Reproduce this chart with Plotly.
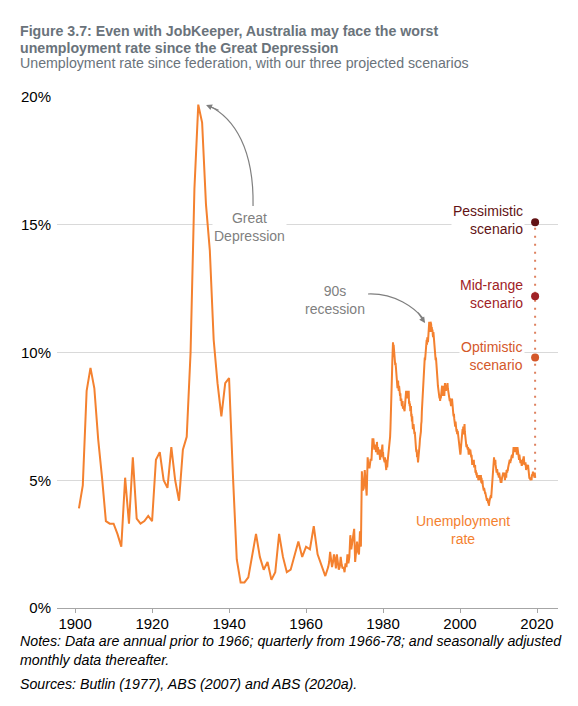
import plotly.graph_objects as go

# ---------------- data ----------------
annual_years = list(range(1901, 1966))
annual_rate = [3.9, 4.8, 8.5, 9.4, 8.6, 6.6, 5.1, 3.4, 3.3, 3.3,
               2.9, 2.4, 5.1, 3.3, 5.9, 3.5, 3.3, 3.4, 3.6, 3.4,
               5.8, 6.1, 5.0, 4.7, 6.3, 5.0, 4.2, 6.2, 6.7, 10.0,
               16.4, 19.7, 19.0, 15.8, 14.0, 10.5, 8.8, 7.5, 8.8, 9.0,
               5.2, 1.9, 1.0, 1.0, 1.2, 2.1, 2.9, 2.0, 1.5, 1.8,
               1.1, 1.4, 2.9, 2.0, 1.4, 1.5, 2.1, 2.6, 2.0, 2.4,
               2.3, 3.2, 2.1, 1.7, 1.25]

quarterly_start = 1965.75
quarterly_rate = [1.6,
                  1.8, 2.2, 1.9, 1.6,
                  1.8, 2.1, 1.9, 1.55,
                  2.1, 1.8, 1.5, 1.6,
                  2.0, 1.7, 1.55, 1.6,
                  1.4, 1.75, 1.6, 2.1,
                  1.75, 2.0, 2.85, 2.3,
                  2.55, 2.7, 3.1, 1.8,
                  2.3, 2.6, 2.2, 2.1,
                  3.0, 2.4, 5.35, 4.6,
                  4.7, 5.4, 4.9, 4.4,
                  5.9, 5.5, 5.5, 5.8,
                  5.8, 6.6]

monthly_start = 1977.5
monthly_rate = [
    6.6, 6.3, 6.5, 6.2, 6.4, 6.2, 6.4, 6.3, 6.1, 6.4, 6.2,
    6.5, 6.2, 6.0, 6.3, 6.2, 6.0, 6.1, 6.2, 5.9, 6.0, 5.8, 6.1,
    6.2, 5.9, 6.2, 6.0, 6.1, 6.4, 6.0, 6.1, 5.9, 5.8, 5.9, 5.7,
    5.7, 5.9, 5.6, 5.5, 5.7, 5.4, 5.8, 5.6, 5.5, 5.7, 5.8, 5.9,
    6.0, 6.3, 6.2, 6.4, 6.6, 6.7, 7.0, 7.3, 7.6, 8.1, 8.6, 9.2,
    9.7, 10.1, 10.4, 10.2, 10.3, 10.1, 9.9, 9.8, 9.7, 9.5, 9.6, 9.4,
    9.3, 9.1, 8.9, 8.8, 8.6, 8.7, 8.9, 8.6, 8.5, 8.7, 8.4, 8.6,
    8.3, 8.4, 8.1, 8.3, 8.2, 8.0, 7.9, 8.0, 8.1, 7.8, 7.9, 7.9,
    7.8, 7.8, 7.7, 7.9, 7.9, 8.1, 8.3, 8.5, 8.3, 8.5, 8.2, 8.3,
    8.4, 8.2, 8.3, 8.5, 8.0, 8.1, 7.9, 8.0, 7.7, 7.8, 7.9, 7.5,
    7.6, 7.3, 7.5, 7.2, 7.0, 7.1, 7.2, 6.9, 7.0, 6.8, 6.9, 6.6,
    6.4, 6.5, 6.2, 6.1, 6.2, 5.9, 6.0, 5.9, 5.7, 5.8, 5.9, 6.1,
    6.3, 6.4, 6.6, 6.7, 6.6, 6.9, 7.2, 7.3, 7.7, 8.0, 8.3, 8.6,
    8.8, 9.1, 9.3, 9.6, 9.5, 9.8, 9.7, 9.9, 10.1, 10.2, 10.4, 10.5,
    10.3, 10.6, 10.5, 10.4, 10.8, 11.0, 10.9, 11.2, 10.9, 11.1, 10.8, 11.2,
    10.9, 11.1, 10.9, 11.0, 10.8, 10.9, 10.7, 10.6, 10.8, 10.6, 10.4, 10.5,
    10.3, 10.0, 9.9, 9.7, 9.8, 9.5, 9.4, 9.2, 9.0, 8.9, 8.7, 8.6,
    8.6, 8.3, 8.4, 8.2, 8.3, 8.1, 8.3, 8.2, 8.5, 8.6, 8.5, 8.7,
    8.3, 8.6, 8.5, 8.7, 8.5, 8.6, 8.3, 8.6, 8.8, 8.6, 8.7, 8.5,
    8.7, 8.6, 8.8, 8.7, 8.8, 8.6, 8.5, 8.6, 8.4, 8.3, 8.2, 8.1,
    8.2, 8.0, 8.1, 7.9, 8.1, 7.9, 8.2, 7.9, 7.8, 7.7, 7.6, 7.5,
    7.6, 7.4, 7.3, 7.4, 7.1, 7.3, 7.0, 7.1, 6.9, 7.0, 6.8, 6.9,
    6.9, 6.8, 6.6, 6.5, 6.4, 6.5, 6.2, 6.3, 6.0, 6.1, 6.3, 6.4,
    6.6, 6.8, 6.7, 7.0, 6.8, 7.1, 6.9, 6.8, 7.0, 7.2, 6.9, 6.8,
    6.7, 6.4, 6.5, 6.3, 6.4, 6.2, 6.4, 6.2, 6.3, 6.1, 6.0, 6.2,
    6.2, 6.1, 6.0, 6.2, 6.0, 6.1, 5.9, 6.0, 5.7, 5.6, 5.8, 5.7,
    5.7, 5.6, 5.8, 5.5, 5.6, 5.5, 5.6, 5.3, 5.4, 5.3, 5.2, 5.3,
    5.1, 5.2, 5.1, 5.2, 5.0, 5.1, 5.0, 5.1, 5.0, 5.2, 5.0, 5.1,
    5.2, 4.9, 5.1, 4.9, 4.9, 5.0, 4.8, 4.7, 4.8, 4.6, 4.7, 4.5,
    4.6, 4.5, 4.5, 4.4, 4.3, 4.4, 4.3, 4.2, 4.3, 4.2, 4.3, 4.1,
    4.2, 4.0, 4.1, 4.2, 4.3, 4.2, 4.3, 4.4, 4.3, 4.5, 4.5, 4.7,
    4.9, 5.3, 5.7, 5.5, 5.8, 5.9, 5.7, 5.8, 5.6, 5.8, 5.6, 5.5,
    5.4, 5.3, 5.4, 5.4, 5.2, 5.2, 5.3, 5.1, 5.1, 5.3, 5.2, 5.0,
    5.0, 5.0, 4.9, 5.0, 4.9, 5.0, 5.1, 5.2, 5.3, 5.2, 5.3, 5.2,
    5.2, 5.3, 5.2, 5.0, 5.1, 5.2, 5.3, 5.1, 5.4, 5.3, 5.3, 5.4,
    5.4, 5.5, 5.6, 5.5, 5.6, 5.7, 5.8, 5.7, 5.7, 5.8, 5.8, 5.9,
    6.0, 6.0, 5.9, 5.9, 6.0, 6.1, 6.3, 6.1, 6.2, 6.3, 6.2, 6.2,
    6.3, 6.2, 6.1, 6.2, 6.0, 6.1, 6.3, 6.2, 6.1, 5.9, 5.8, 5.8,
    6.0, 5.8, 5.8, 5.7, 5.7, 5.8, 5.7, 5.6, 5.6, 5.7, 5.6, 5.8,
    5.8, 5.9, 5.9, 5.7, 5.6, 5.6, 5.6, 5.7, 5.5, 5.4, 5.5, 5.6,
    5.5, 5.6, 5.5, 5.6, 5.4, 5.4, 5.3, 5.1, 5.1, 5.0, 5.1, 5.0,
    5.1, 5.0, 5.0, 5.2, 5.2, 5.2, 5.3, 5.3, 5.2, 5.3, 5.2, 5.1,
    5.3, 5.1,
]

scenario_names = ["Optimistic<br>scenario", "Mid-range<br>scenario", "Pessimistic<br>scenario"]
scenario_rate = [9.8, 12.2, 15.1]
scenario_colors = ["#D4582A", "#A02226", "#621214"]

y_tickvals = [0, 5, 10, 15, 20]
y_ticktext = ["0%", "5%", "10%", "15%", "20%"]
x_tickvals = [1900, 1920, 1940, 1960, 1980, 2000, 2020]

# ---------------- build series ----------------
x_all = [float(y) for y in annual_years]
y_all = list(annual_rate)
x_all += [quarterly_start + i / 4 for i in range(len(quarterly_rate))]
y_all += quarterly_rate
x_all += [monthly_start + i / 12 for i in range(len(monthly_rate))]
y_all += monthly_rate

last_x = x_all[-1]
last_y = y_all[-1]

ORANGE = "#F4812F"
GREY = "#7f7f7f"
FONT = "Arial, Liberation Sans, Helvetica, sans-serif"

fig = go.Figure()

# dotted connector to scenarios
fig.add_trace(go.Scatter(
    x=[last_x, last_x], y=[last_y, max(scenario_rate)],
    mode="lines", line=dict(color="#D4582A", width=2, dash="2px,6px"),
    opacity=0.75, hoverinfo="skip", showlegend=False))

fig.add_trace(go.Scatter(
    x=x_all, y=y_all, mode="lines",
    line=dict(color=ORANGE, width=2), showlegend=False))

fig.add_trace(go.Scatter(
    x=[last_x] * len(scenario_rate), y=scenario_rate, mode="markers",
    marker=dict(color=scenario_colors, size=8), showlegend=False))

ann = []
for name, val, col in zip(scenario_names, scenario_rate, scenario_colors):
    ann.append(dict(x=last_x, y=val, xref="x", yref="y", text=name,
                    showarrow=False, xanchor="right", yanchor="middle",
                    xshift=-10, yshift=2, align="right",
                    font=dict(size=14, color=col, family=FONT),
                    bgcolor="white"))

ann.append(dict(x=1945.2, y=14.91, xref="x", yref="y", text="Great<br>Depression",
                showarrow=False, font=dict(size=14, color=GREY, family=FONT),
                bgcolor="white", align="center"))
ann.append(dict(x=1967.4, y=12.04, xref="x", yref="y", text="90s<br>recession",
                showarrow=False, font=dict(size=14, color=GREY, family=FONT),
                align="center"))
ann.append(dict(x=2000.65, y=3.05, xref="x", yref="y", text="Unemployment<br>rate",
                showarrow=False, font=dict(size=14, color=ORANGE, family=FONT),
                align="center"))

# arrowheads
ann.append(dict(x=1934.03, y=19.69, xref="x", yref="y", text="", showarrow=True,
                ax=14, ay=6, arrowhead=2, arrowsize=1, arrowwidth=1.2, arrowcolor=GREY))
ann.append(dict(x=1990.91, y=11.15, xref="x", yref="y", text="", showarrow=True,
                ax=-8, ay=-12, arrowhead=2, arrowsize=1, arrowwidth=1.2, arrowcolor=GREY))

# titles / notes (paper coordinates; page has an 8px body margin)
def py(pix):
    return (608 - pix) / 511.0

px_left = (18 - 57) / 501.0
ann.append(dict(x=px_left, y=py(31), xref="paper", yref="paper", xanchor="left", yanchor="middle",
                text="<b>Figure 3.7: Even with JobKeeper, Australia may face the worst</b>",
                showarrow=False, font=dict(size=14.2, color="#6A737B", family=FONT)))
ann.append(dict(x=px_left, y=py(47.5), xref="paper", yref="paper", xanchor="left", yanchor="middle",
                text="<b>unemployment rate since the Great Depression</b>",
                showarrow=False, font=dict(size=14.2, color="#6A737B", family=FONT)))
ann.append(dict(x=px_left, y=py(63), xref="paper", yref="paper", xanchor="left", yanchor="middle",
                text="Unemployment rate since federation, with our three projected scenarios",
                showarrow=False, font=dict(size=14.2, color="#6A737B", family=FONT)))
ann.append(dict(x=px_left, y=py(641), xref="paper", yref="paper", xanchor="left", yanchor="middle",
                text="<i>Notes: Data are annual prior to 1966; quarterly from 1966-78; and seasonally adjusted</i>",
                showarrow=False, font=dict(size=14.2, color="black", family=FONT)))
ann.append(dict(x=px_left, y=py(660), xref="paper", yref="paper", xanchor="left", yanchor="middle",
                text="<i>monthly data thereafter.</i>",
                showarrow=False, font=dict(size=14.2, color="black", family=FONT)))
ann.append(dict(x=px_left, y=py(684), xref="paper", yref="paper", xanchor="left", yanchor="middle",
                text="<i>Sources: Butlin (1977), ABS (2007) and ABS (2020a).</i>",
                showarrow=False, font=dict(size=14.2, color="black", family=FONT)))

shapes = [
    dict(type="path", xref="x", yref="y",
         path="M 1946.23,15.73 C 1946.49,17.92 1941.56,19.18 1934.6,19.67",
         line=dict(color=GREY, width=1.2)),
    dict(type="path", xref="x", yref="y",
         path="M 1976.10,12.29 C 1983.12,12.33 1988.31,11.74 1990.6,11.3",
         line=dict(color=GREY, width=1.2)),
]

fig.update_layout(
    width=570, height=698,
    margin=dict(l=49, r=20, t=89, b=98),
    paper_bgcolor="white", plot_bgcolor="white",
    font=dict(family=FONT, size=15, color="black"),
    annotations=ann, shapes=shapes,
    xaxis=dict(range=[1895.3, 2025.45], tickvals=x_tickvals, showgrid=False,
               showline=True, linecolor="#a6a6a6", linewidth=1,
               ticks="outside", ticklen=4, tickcolor="#a6a6a6",
               ticklabelstandoff=-2,
               tickfont=dict(size=15, family=FONT), zeroline=False),
    yaxis=dict(range=[0, 20], tickvals=y_tickvals, ticktext=y_ticktext,
               tickmode="array",
               showgrid=True, gridcolor="#d9d9d9", gridwidth=1,
               zeroline=False, showline=False, ticks="",
               ticklabelstandoff=5,
               tickfont=dict(size=15, family=FONT)),
    showlegend=False,
)

fig.write_html("out.html")
